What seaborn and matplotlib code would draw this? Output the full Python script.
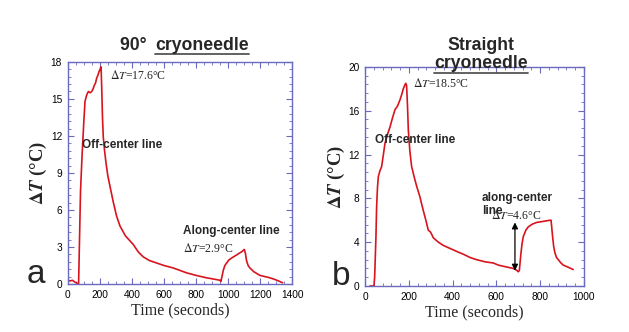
import numpy as np
import pandas as pd
import matplotlib
matplotlib.use("Agg")
import matplotlib.pyplot as plt
import seaborn as sns
from matplotlib.ticker import MultipleLocator, AutoMinorLocator
from matplotlib.lines import Line2D

# panel a: 90 degree cryoneedle, off-center then along-center line
time_a = [0, 15, 30, 45, 60, 68, 72, 76, 80, 90, 100, 108, 118, 129, 140, 150, 158, 166,
          174, 181, 188, 195, 202, 208, 212, 217, 222, 230, 239, 250, 264, 285, 305, 326,
          360, 409, 440, 471, 510, 555, 600, 658, 700, 742, 800, 866, 910, 950, 955,
          962, 970, 980, 991, 1005, 1022, 1040, 1053, 1070, 1084, 1101, 1108, 1115,
          1125, 1136, 1160, 1198, 1230, 1261, 1295, 1323, 1340]
dT_a = [0.3, 0.25, 0.3, 0.15, 0.05, 0.0, 2.5, 5.0, 7.5, 10.5, 13.0, 14.8, 15.3, 15.6, 15.5, 15.6,
        15.8, 16.1, 16.3, 16.7, 16.9, 17.2, 17.4, 17.6, 16.0, 13.5, 11.9, 10.8, 9.8, 8.8,
        7.9, 6.6, 5.5, 4.7, 3.9, 3.2, 2.6, 2.2, 1.9, 1.7, 1.5, 1.3, 1.1, 0.9, 0.7, 0.5,
        0.4, 0.3, 0.2, 0.6, 1.1, 1.5, 1.7, 1.95, 2.1, 2.25, 2.35, 2.5, 2.6, 2.8, 2.5,
        1.9, 1.5, 1.3, 1.0, 0.7, 0.6, 0.5, 0.35, 0.2, 0.1]

# panel b: straight cryoneedle
time_b = [23, 35, 41, 44, 46, 50, 53, 57, 61, 68, 76, 84, 91, 102, 114, 125, 137, 148,
          160, 168, 175, 181, 186, 190, 194, 198, 205, 213, 224, 236, 250, 266, 278, 289,
          300, 312, 335, 358, 380, 403, 425, 449, 480, 510, 550, 586, 610, 632, 655, 677,
          692, 700, 705, 711, 717, 723, 735, 746, 765, 784, 815, 845, 850, 857, 862, 868,
          875, 883, 895, 906, 930, 951]
dT_b = [0.0, 0.0, 0.05, 0.8, 2.0, 4.5, 7.2, 9.0, 10.0, 10.5, 10.9, 12.0, 13.0, 13.8, 14.5,
        15.3, 16.1, 16.4, 17.0, 17.5, 18.0, 18.3, 18.5, 18.3, 16.5, 14.2, 12.3, 10.9,
        10.0, 9.1, 8.2, 6.9, 6.0, 5.1, 4.9, 4.4, 4.0, 3.7, 3.5, 3.3, 3.1, 2.9, 2.6, 2.4,
        2.2, 2.1, 1.9, 1.8, 1.7, 1.6, 1.45, 1.3, 1.4, 2.7, 3.8, 4.5, 5.1, 5.4, 5.65, 5.8,
        5.9, 6.0, 6.0, 4.5, 3.6, 3.0, 2.6, 2.4, 2.1, 1.9, 1.7, 1.5]

arrow_b = (685, 1.4, 5.8)  # time, low, high

red = "#d8141e"
frame = "#6a6abf"

sns.set_style("ticks")
plt.rcParams["font.family"] = ["Liberation Sans", "DejaVu Sans"]
plt.rcParams["mathtext.fontset"] = "stix"

fig = plt.figure(figsize=(6.29, 3.32), dpi=100)
ax_a = fig.add_axes([0.1076, 0.1446, 0.357, 0.669])
ax_b = fig.add_axes([0.5803, 0.1386, 0.348, 0.660])

df_a = pd.DataFrame({"t": time_a, "dT": dT_a})
df_b = pd.DataFrame({"t": time_b, "dT": dT_b})
sns.lineplot(data=df_a, x="t", y="dT", ax=ax_a, color=red, lw=1.2, sort=False)
sns.lineplot(data=df_b, x="t", y="dT", ax=ax_b, color=red, lw=1.2, sort=False)

serif = "Liberation Serif"


def style_axes(ax, xmax, xstep, xminor, ymax, ystep):
    ax.set_xlim(0, xmax)
    ax.set_ylim(0, ymax)
    ax.xaxis.set_major_locator(MultipleLocator(xstep))
    ax.xaxis.set_minor_locator(AutoMinorLocator(xminor))
    ax.yaxis.set_major_locator(MultipleLocator(ystep))
    ax.yaxis.set_minor_locator(AutoMinorLocator(5))
    for s in ax.spines.values():
        s.set_visible(True)
        s.set_color(frame)
        s.set_linewidth(1.0)
    ax.tick_params(which="both", direction="in", top=True, right=True, color=frame,
                   labelsize=7.3, labelcolor="black")
    ax.tick_params(axis="x", pad=4)
    ax.tick_params(axis="y", pad=4)
    ax.tick_params(which="major", length=4, width=0.8)
    ax.tick_params(which="minor", length=2.2, width=0.6)
    ax.set_xlabel("Time (seconds)", family=serif, fontsize=11.5, labelpad=2)
    ax.set_ylabel(r"$\mathbf{\Delta}\mathbfit{T}$ (°C)", family=serif, fontweight="bold",
                  fontsize=13.5, labelpad=1)


style_axes(ax_a, 1400, 200, 4, 18, 3)
style_axes(ax_b, 1000, 200, 5, 20, 4)

# annotations panel a
ax_a.text(264, 16.9, r"$\Delta T$=17.6°C", family=serif, fontsize=8.5, va="center")
ax_a.text(90, 11.3, "Off-center line", fontweight="bold", fontsize=8.5, va="center")
ax_a.text(717, 4.3, "Along-center line", fontweight="bold", fontsize=8.5, va="center")
ax_a.text(717, 2.9, r"$\Delta T$=2.9°C", family=serif, fontsize=8.5, va="center")

# annotations panel b
ax_b.text(221, 18.5, r"$\Delta T$=18.5°C", family=serif, fontsize=8.5, va="center")
ax_b.text(46, 13.3, "Off-center line", fontweight="bold", fontsize=8.5, va="center")
ax_b.text(533, 8.6, "along-center\nline", fontweight="bold", fontsize=8.5, va="top",
          linespacing=1.15)
ax_b.text(575, 6.4, r"$\Delta T$=4.6°C", family=serif, fontsize=8.5, va="center")
ax_b.annotate("", xy=(arrow_b[0], arrow_b[1]), xytext=(arrow_b[0], arrow_b[2]),
              arrowprops=dict(arrowstyle="<|-|>", color="black", lw=0.9,
                              mutation_scale=9, shrinkA=0, shrinkB=0))

# panel letters
fig.text(0.043, 0.148, "a", fontsize=24, va="baseline")
fig.text(0.527, 0.142, "b", fontsize=24, va="baseline")

# titles with underlined word
H = 332.0
t1 = fig.text(152 / 629, 1 - 45 / H, "90° ", fontsize=12.7, fontweight="bold",
              ha="right", va="center")
t2 = fig.text(155 / 629, 1 - 45 / H, "cryoneedle", fontsize=12.7, fontweight="bold",
              ha="left", va="center")
t3 = fig.text(481 / 629, 1 - 45 / H, "Straight", fontsize=12.7, fontweight="bold",
              ha="center", va="center")
t4 = fig.text(481 / 629, 1 - 64 / H, "cryoneedle", fontsize=12.7, fontweight="bold",
              ha="center", va="center")

fig.canvas.draw()
r = fig.canvas.get_renderer()
for t, yline in [(t2, 54), (t4, 73)]:
    bb = t.get_window_extent(r)
    y = 1 - yline / H
    fig.add_artist(Line2D([bb.x0 / 629, bb.x1 / 629], [y, y], transform=fig.transFigure,
                          color="#555555", lw=1.3))

fig.savefig("out.png", dpi=100)
